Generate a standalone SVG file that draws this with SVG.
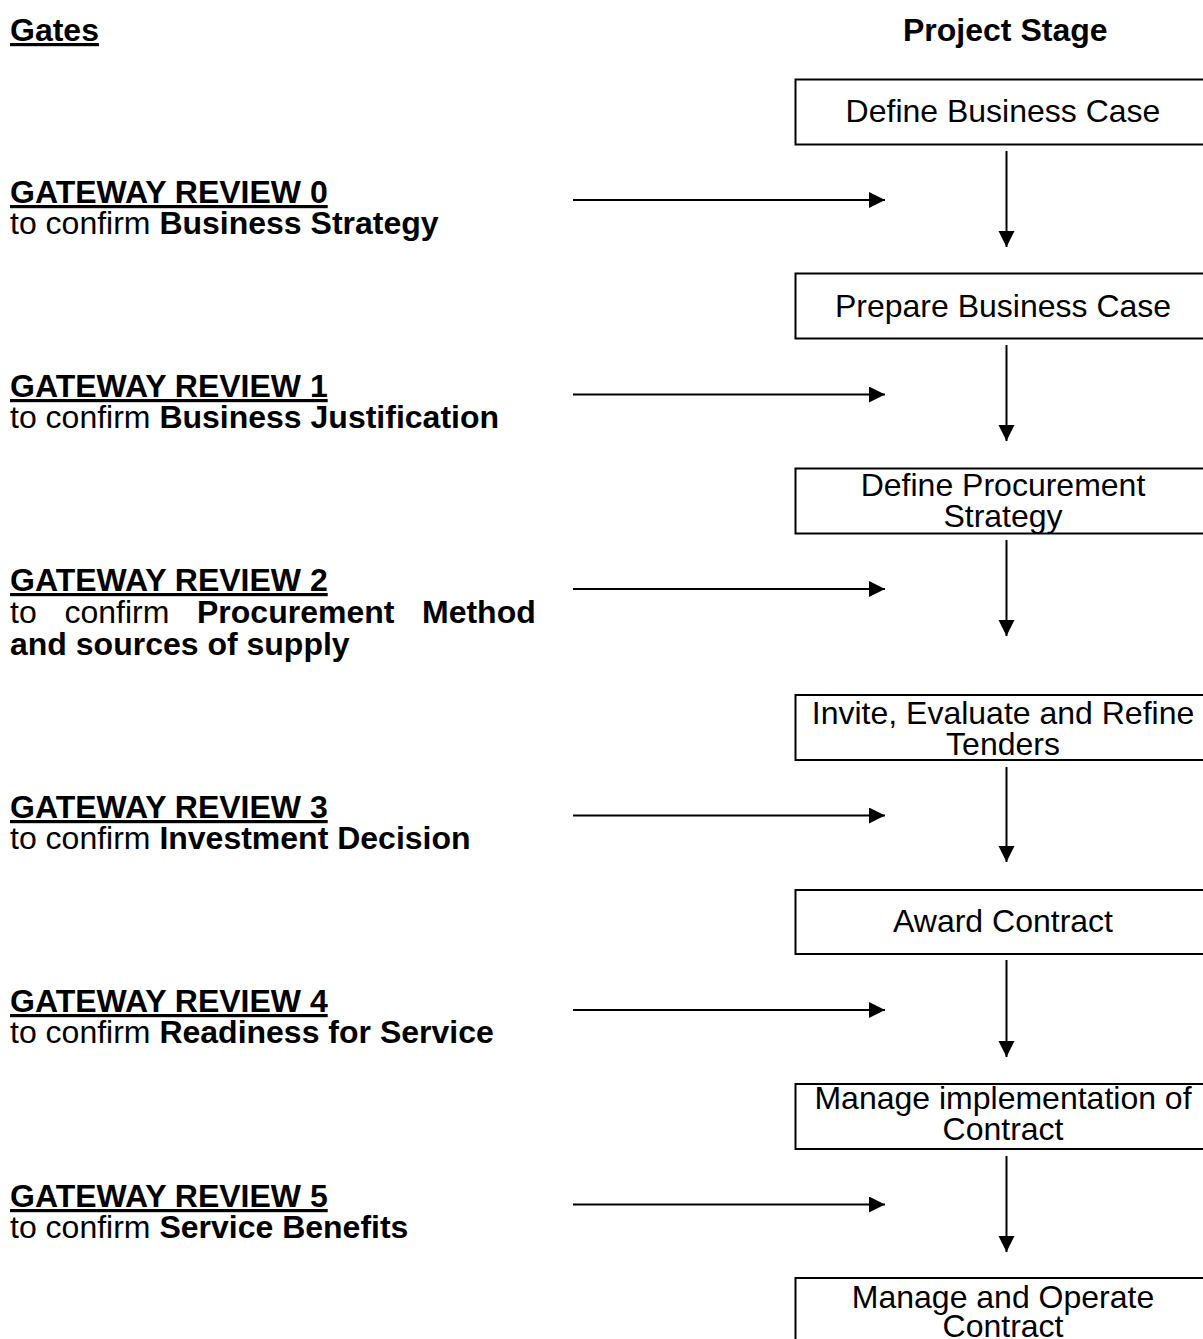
<svg xmlns="http://www.w3.org/2000/svg" width="1203" height="1339" viewBox="0 0 1203 1339">
<style>
text{font-family:"Liberation Sans",Arial,sans-serif;font-size:32px;fill:#000}
.b{font-weight:bold}
.u{text-decoration:underline}
.box{fill:#fff;stroke:#000;stroke-width:2}
.st{text-anchor:middle}
.con line{stroke:#000;stroke-width:2}
</style>
<defs>
<marker id="ah" markerUnits="userSpaceOnUse" markerWidth="17" markerHeight="17" refX="16" refY="8" orient="auto">
<path d="M0,0 L16,8 L0,16 Z" fill="#000"/>
</marker>
</defs>
<rect width="1203" height="1339" fill="#fff"/>
<g id="headers">
<text x="10" y="41" class="b u">Gates</text>
<text x="903" y="41" class="b">Project Stage</text>
</g>
<g id="gate0">
<text x="10" y="203" class="b u">GATEWAY REVIEW 0</text>
<text x="10" y="234">to confirm <tspan class="b">Business Strategy</tspan></text>
</g>
<g id="gate1">
<text x="10" y="397" class="b u">GATEWAY REVIEW 1</text>
<text x="10" y="428">to confirm <tspan class="b">Business Justification</tspan></text>
</g>
<g id="gate2">
<text x="10" y="591" class="b u">GATEWAY REVIEW 2</text>
<text y="623"><tspan x="10">to</tspan><tspan x="64.4">confirm</tspan><tspan x="197" class="b">Procurement</tspan><tspan x="422" class="b">Method</tspan></text>
<text x="10" y="655" class="b">and sources of supply</text>
</g>
<g id="gate3">
<text x="10" y="818" class="b u">GATEWAY REVIEW 3</text>
<text x="10" y="849">to confirm <tspan class="b">Investment Decision</tspan></text>
</g>
<g id="gate4">
<text x="10" y="1012" class="b u">GATEWAY REVIEW 4</text>
<text x="10" y="1043">to confirm <tspan class="b">Readiness for Service</tspan></text>
</g>
<g id="gate5">
<text x="10" y="1207" class="b u">GATEWAY REVIEW 5</text>
<text x="10" y="1238">to confirm <tspan class="b">Service Benefits</tspan></text>
</g>
<g id="stage1">
<rect class="box" x="795.5" y="79.5" width="420" height="65"/>
<text x="1003" y="122" class="st">Define Business Case</text>
</g>
<g id="stage2">
<rect class="box" x="795.5" y="273.5" width="420" height="65"/>
<text x="1003" y="317" class="st">Prepare Business Case</text>
</g>
<g id="stage3">
<rect class="box" x="795.5" y="468.5" width="420" height="65"/>
<text x="1003" y="496" class="st">Define Procurement</text>
<text x="1003" y="527" class="st">Strategy</text>
</g>
<g id="stage4">
<rect class="box" x="795.5" y="695" width="420" height="65"/>
<text x="1003" y="724" class="st">Invite, Evaluate and Refine</text>
<text x="1003" y="755" class="st">Tenders</text>
</g>
<g id="stage5">
<rect class="box" x="795.5" y="890" width="420" height="64"/>
<text x="1003" y="932" class="st">Award Contract</text>
</g>
<g id="stage6">
<rect class="box" x="795.5" y="1084" width="420" height="65"/>
<text x="1003" y="1109" class="st">Manage implementation of</text>
<text x="1003" y="1140" class="st">Contract</text>
</g>
<g id="stage7">
<rect class="box" x="795.5" y="1278" width="420" height="80"/>
<text x="1003" y="1308" class="st">Manage and Operate</text>
<text x="1003" y="1337" class="st">Contract</text>
</g>
<g id="connectors" class="con">
<line x1="573" y1="200" x2="885" y2="200" marker-end="url(#ah)"/>
<line x1="573" y1="394.5" x2="885" y2="394.5" marker-end="url(#ah)"/>
<line x1="573" y1="589" x2="885" y2="589" marker-end="url(#ah)"/>
<line x1="573" y1="815.5" x2="885" y2="815.5" marker-end="url(#ah)"/>
<line x1="573" y1="1010" x2="885" y2="1010" marker-end="url(#ah)"/>
<line x1="573" y1="1204.5" x2="885" y2="1204.5" marker-end="url(#ah)"/>
<line x1="1006.5" y1="151" x2="1006.5" y2="247" marker-end="url(#ah)"/>
<line x1="1006.5" y1="345" x2="1006.5" y2="441" marker-end="url(#ah)"/>
<line x1="1006.5" y1="540" x2="1006.5" y2="636" marker-end="url(#ah)"/>
<line x1="1006.5" y1="767" x2="1006.5" y2="862" marker-end="url(#ah)"/>
<line x1="1006.5" y1="960" x2="1006.5" y2="1057" marker-end="url(#ah)"/>
<line x1="1006.5" y1="1156" x2="1006.5" y2="1252" marker-end="url(#ah)"/>
</g>
</svg>
